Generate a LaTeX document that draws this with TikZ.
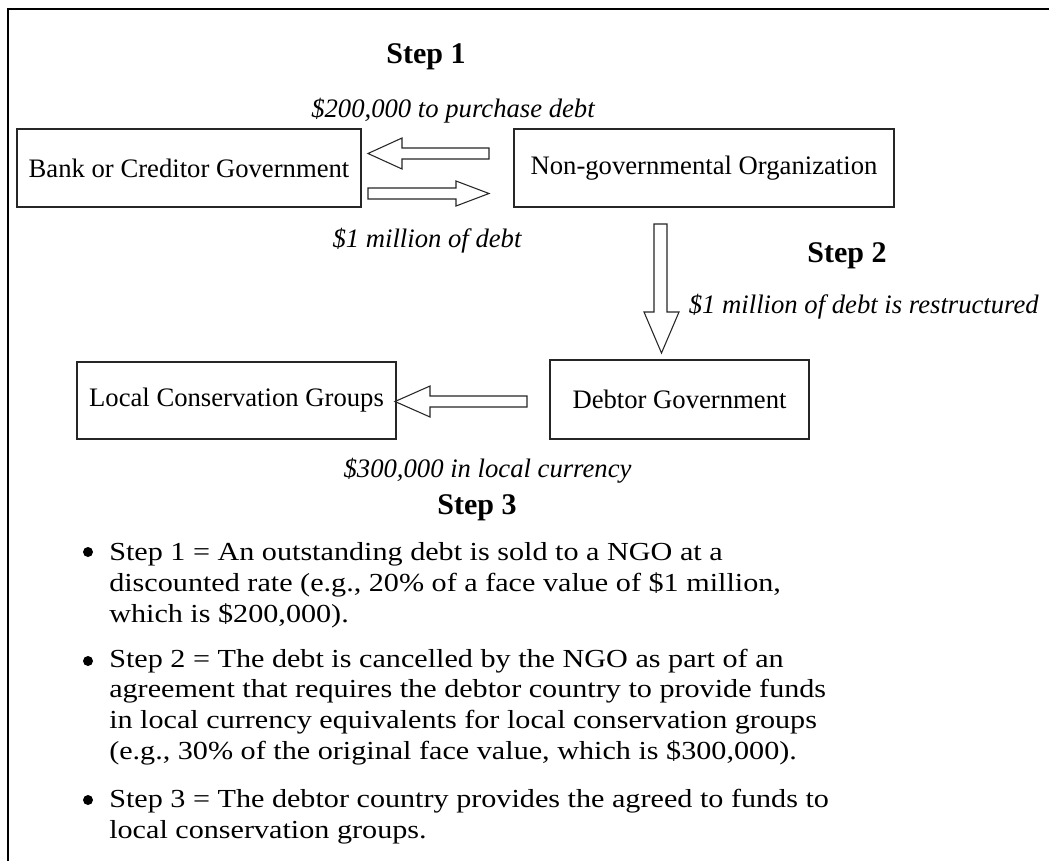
\documentclass[tikz,border=0pt]{standalone}
\usepackage{fontspec}
\setmainfont{Liberation Serif}
\newfontfamily\widefont[FakeStretch=1.16]{Liberation Serif}
\begin{document}
\begin{tikzpicture}[x=0.75pt,y=-0.75pt,
  box/.style={draw=black!85, line width=1pt, inner sep=0pt, font=\fontsize{20}{24}\selectfont},
  barrow/.style={draw=black!85, line width=0.8pt, fill=white, line join=miter},
  steplbl/.style={anchor=base, inner sep=0pt, font=\fontsize{22.5}{27}\selectfont\bfseries},
  flowlbl/.style={anchor=base, inner sep=0pt, font=\fontsize{20}{24}\selectfont\itshape},
  bul/.style={circle, fill=black, inner sep=0pt, minimum width=7.5pt},
  item/.style={anchor=base west, inner sep=0pt, align=left, font=\widefont\fontsize{19.5}{22.9}\selectfont}]
\useasboundingbox (0,0) rectangle (1049,861);
\fill[white] (0,0) rectangle (1049,861);
% frame
\draw[line width=1.2pt] (8,861) -- (8,9) -- (1049,9);
% boxes
\node[box, minimum width=258pt, minimum height=58.5pt] (bank) at (189,168) {Bank or Creditor Government};
\node[box, minimum width=285pt, minimum height=58.5pt] (ngo) at (704,168) {Non-governmental Organization};
\node[box, minimum width=194.25pt, minimum height=59.25pt] (debtor) at (679.5,399.5) {Debtor Government};
\node[box, minimum width=239.25pt, minimum height=57.75pt] (local) at (236.5,400.5) {Local Conservation Groups};
% block arrows
\draw[barrow] (489,148) -- (402,148) -- (402,138) -- (368,153.5) -- (402,169) -- (402,159) -- (489,159) -- cycle;
\draw[barrow] (368,188) -- (456,188) -- (456,181) -- (489,193.5) -- (456,206) -- (456,199) -- (368,199) -- cycle;
\draw[barrow] (654,224) -- (654,312) -- (644,312) -- (661.5,353) -- (679,312) -- (667,312) -- (667,224) -- cycle;
\draw[barrow] (527,396) -- (430,396) -- (430,386) -- (395,401.5) -- (430,417) -- (430,407) -- (527,407) -- cycle;
% labels
\node[steplbl] (s1) at (426,63) {Step 1};
\node[flowlbl] (l1) at (453,117) {\$200,000 to purchase debt};
\node[flowlbl] (l2) at (427,247) {\$1 million of debt};
\node[steplbl] (s2) at (847,262) {Step 2};
\node[flowlbl, anchor=base east] (l3) at (1039,313) {\$1 million of debt is restructured};
\node[flowlbl] (l4) at (487.5,477) {\$300,000 in local currency};
\node[steplbl] (s3) at (477,514) {Step 3};
% bullets (item nodes anchored at the baseline of their last line)
\node[bul] (b1) at (88,552) {};
\node[item] (t1) at (109,622) {Step 1 = An outstanding debt is sold to a NGO at a\\discounted rate (e.g., 20\% of a face value of \$1 million,\\which is \$200,000).};
\node[bul] (b2) at (88,661) {};
\node[item] (t2) at (109,759) {Step 2 = The debt is cancelled by the NGO as part of an\\agreement that requires the debtor country to provide funds\\in local currency equivalents for local conservation groups\\(e.g., 30\% of the original face value, which is \$300,000).};
\node[bul] (b3) at (88,800) {};
\node[item] (t3) at (109,838) {Step 3 = The debtor country provides the agreed to funds to\\local conservation groups.};
\end{tikzpicture}
\end{document}
